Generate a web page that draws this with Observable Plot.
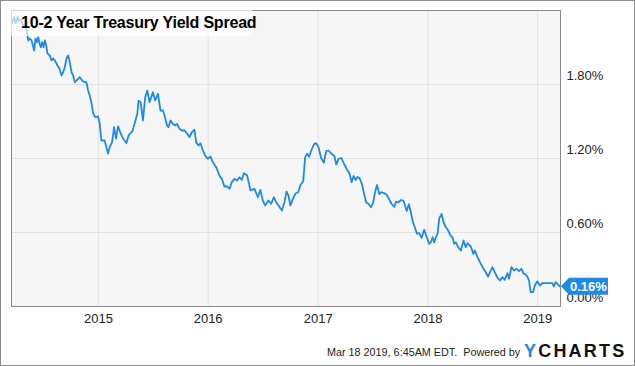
<!DOCTYPE html>
<html>
<head>
<meta charset="utf-8">
<script src="https://cdn.jsdelivr.net/npm/d3@7"></script>
<script src="https://cdn.jsdelivr.net/npm/@observablehq/plot@0.6"></script>
<style>
  html, body { margin: 0; padding: 0; background: #fff; }
  #wrap { position: relative; width: 635px; height: 366px; overflow: hidden; font-family: Arial, "Liberation Sans", sans-serif; }
  #border { position: absolute; left: 0; top: 0; width: 635px; height: 366px; box-sizing: border-box; border: 1px solid #8c8c8c; pointer-events: none; }
  #title { position: absolute; left: 11px; top: 10px; width: 241px; height: 26px; background: rgba(255,255,255,0.65); }
  #title span { position: absolute; left: 10px; top: 4px; font-size: 16px; font-weight: bold; color: #000; white-space: nowrap; letter-spacing: -0.2px; }
  #footer { position: absolute; left: 327px; top: 346px; font-size: 10.8px; color: #222; white-space: nowrap; }
  #logo { position: absolute; left: 524px; top: 341px; font-size: 18px; font-weight: 900; letter-spacing: 2.2px; white-space: nowrap; color: #111; }
  #logo .y { color: #1e8de6; }
</style>
</head>
<body>
<div id="wrap">
  <div id="chart"></div>
  <div id="title"><span>10-2 Year Treasury Yield Spread</span></div>
  <div id="footer">Mar 18 2019, 6:45AM EDT.&nbsp; Powered by</div>
  <div id="logo"><span class="y">Y</span>CHARTS</div>
  <div id="border"></div>
</div>
<script>
// Dates as decimal years
const years = [
2014.210,2014.234,2014.245,2014.264,2014.273,2014.294,2014.315,2014.330,2014.345,2014.361,
2014.375,2014.391,2014.415,2014.427,2014.439,2014.452,2014.464,2014.475,2014.488,2014.500,
2014.512,2014.525,2014.536,2014.557,2014.573,2014.588,2014.603,2014.627,2014.645,2014.664,
2014.679,2014.694,2014.709,2014.725,2014.739,2014.755,2014.770,2014.785,2014.800,2014.815,
2014.830,2014.852,2014.875,2014.891,2014.906,2014.921,2014.936,2014.952,2014.973,2014.997,
2015.012,2015.027,2015.057,2015.073,2015.088,2015.103,2015.125,2015.143,2015.161,2015.179,
2015.203,2015.225,2015.255,2015.275,2015.309,2015.330,2015.355,2015.366,2015.385,2015.406,
2015.427,2015.445,2015.466,2015.497,2015.518,2015.543,2015.566,2015.588,2015.603,2015.625,
2015.639,2015.657,2015.679,2015.700,2015.718,2015.739,2015.761,2015.785,2015.809,2015.830,
2015.852,2015.875,2015.891,2015.912,2015.930,2015.952,2015.973,2015.997,2016.021,2016.043,
2016.073,2016.103,2016.125,2016.148,2016.173,2016.194,2016.215,2016.239,2016.264,2016.285,
2016.306,2016.325,2016.355,2016.385,2016.421,2016.452,2016.475,2016.497,2016.518,2016.548,
2016.573,2016.597,2016.618,2016.639,2016.670,2016.694,2016.712,2016.730,2016.748,2016.770,
2016.795,2016.818,2016.841,2016.864,2016.882,2016.900,2016.918,2016.941,2016.964,2016.982,
2017.003,2017.027,2017.052,2017.073,2017.094,2017.121,2017.148,2017.165,2017.186,2017.212,
2017.234,2017.259,2017.284,2017.305,2017.323,2017.341,2017.359,2017.377,2017.400,2017.418,
2017.436,2017.457,2017.482,2017.500,2017.518,2017.536,2017.557,2017.577,2017.600,2017.623,
2017.645,2017.668,2017.694,2017.709,2017.727,2017.755,2017.777,2017.807,2017.827,2017.845,
2017.861,2017.875,2017.900,2017.921,2017.943,2017.966,2017.991,2018.012,2018.027,2018.043,
2018.057,2018.073,2018.088,2018.103,2018.125,2018.143,2018.159,2018.180,2018.203,2018.225,
2018.239,2018.255,2018.275,2018.300,2018.325,2018.345,2018.361,2018.391,2018.415,2018.427,
2018.452,2018.482,2018.506,2018.527,2018.548,2018.566,2018.588,2018.609,2018.634,2018.657,
2018.679,2018.700,2018.725,2018.739,2018.761,2018.785,2018.809,2018.830,2018.852,2018.870,
2018.891,2018.906,2018.921,2018.936,2018.957,2018.975,2018.997,2019.021,2019.043,2019.088,
2019.134,2019.148,2019.164,2019.194,2019.208
];
// 10-2 year spread, percent
const spread = [
2.295,2.346,2.295,2.351,2.319,2.319,2.278,2.265,2.238,2.157,
2.173,2.157,2.076,2.173,2.143,2.184,2.132,2.102,2.143,2.102,
2.157,2.116,2.051,2.035,1.995,2.011,1.995,1.954,1.930,1.873,
1.900,1.940,2.011,2.035,1.981,1.900,1.873,1.819,1.832,1.846,
1.859,1.832,1.819,1.819,1.751,1.711,1.657,1.565,1.535,1.541,
1.484,1.346,1.346,1.292,1.241,1.292,1.332,1.454,1.362,1.460,
1.403,1.362,1.324,1.387,1.421,1.481,1.565,1.670,1.657,1.508,
1.697,1.751,1.657,1.738,1.670,1.725,1.589,1.589,1.549,1.468,
1.454,1.508,1.481,1.468,1.481,1.441,1.427,1.427,1.400,1.373,
1.413,1.433,1.332,1.305,1.324,1.265,1.224,1.198,1.216,1.170,
1.130,1.062,1.035,0.973,0.973,0.954,1.008,1.035,1.022,1.048,
1.027,1.081,1.062,0.941,0.954,0.886,0.946,0.859,0.819,0.859,
0.833,0.886,0.846,0.819,0.778,0.846,0.932,0.900,0.819,0.873,
0.916,0.927,0.989,1.016,1.211,1.238,1.214,1.273,1.319,1.324,
1.292,1.204,1.166,1.259,1.265,1.238,1.220,1.151,1.198,1.204,
1.160,1.117,1.083,1.008,1.058,1.026,1.050,1.041,0.989,0.916,
0.846,0.833,0.805,0.838,0.924,0.985,0.912,0.927,0.919,0.908,
0.872,0.833,0.808,0.851,0.843,0.863,0.859,0.774,0.830,0.762,
0.692,0.657,0.590,0.594,0.557,0.622,0.557,0.508,0.521,0.562,
0.521,0.562,0.590,0.714,0.750,0.684,0.649,0.624,0.580,0.559,
0.508,0.521,0.481,0.454,0.535,0.481,0.513,0.486,0.427,0.454,
0.400,0.346,0.306,0.278,0.243,0.278,0.319,0.278,0.233,0.211,
0.238,0.216,0.270,0.225,0.319,0.292,0.306,0.286,0.306,0.270,
0.259,0.243,0.211,0.116,0.116,0.170,0.205,0.170,0.189,0.189,
0.189,0.162,0.197,0.170,0.160
];
const yTicks = [0, 0.6, 1.2, 1.8];
const xTickYears = [2015, 2016, 2017, 2018, 2019];
const startDate = "2014-03-18";
const endDate = "2019-03-18";
const lastLabel = "0.16%";

function toDate(t) {
  const y = Math.floor(t);
  const s = Date.UTC(y, 0, 1), e = Date.UTC(y + 1, 0, 1);
  return new Date(s + (t - y) * (e - s));
}
const data = years.map((t, i) => ({date: toDate(t), value: spread[i]}));
const xTicks = xTickYears.map(y => new Date(Date.UTC(y, 0, 1)));

const plot = Plot.plot({
  width: 635,
  height: 366,
  marginLeft: 11,
  marginRight: 75,
  marginTop: 10,
  marginBottom: 60,
  style: {fontFamily: 'Arial, "Liberation Sans", sans-serif', fontSize: "13px", background: "transparent", color: "#222"},
  x: {type: "utc", domain: [new Date(startDate), new Date(endDate)]},
  y: {domain: [0, 2.4]},
  marks: [
    Plot.frame({fill: "#f6f6f6", stroke: null}),
    Plot.gridX(xTicks, {stroke: "#e2e2e2", strokeOpacity: 1}),
    Plot.gridY(yTicks, {stroke: "#e2e2e2", strokeOpacity: 1}),
    Plot.line(data, {x: "date", y: "value", stroke: "#1e8ae6", strokeWidth: 1.8, curve: "linear"}),
    Plot.frame({stroke: "#8a8a8a", strokeWidth: 1}),
    Plot.axisX({ticks: xTicks, tickFormat: d3.utcFormat("%Y"), tickSize: 0, tickPadding: 7, label: null, fontSize: 13}),
    Plot.axisY({anchor: "right", ticks: yTicks, tickFormat: d => d.toFixed(2) + "%", tickSize: 0, tickPadding: 6, dy: -9, textAnchor: "start", label: null, fontSize: 13})
  ]
});
document.getElementById("chart").appendChild(plot);

// last-value badge positioned with the plot's own scales
const last = data[data.length - 1];
const px = plot.scale("x").apply(last.date);
const py = plot.scale("y").apply(last.value);
const svg = d3.select(plot);
const g = svg.append("g");
g.append("path")
  .attr("d", `M${px + 1},${py} L${px + 9},${py - 8.5} L${px + 48},${py - 8.5} L${px + 48},${py + 8.5} L${px + 9},${py + 8.5} Z`)
  .attr("fill", "#1e8ae6");
g.append("text")
  .attr("x", px + 28.5).attr("y", py)
  .attr("dy", "0.35em")
  .attr("text-anchor", "middle")
  .attr("fill", "#fff")
  .attr("font-weight", "bold")
  .attr("font-size", 13)
  .text(lastLabel);
</script>
</body>
</html>
